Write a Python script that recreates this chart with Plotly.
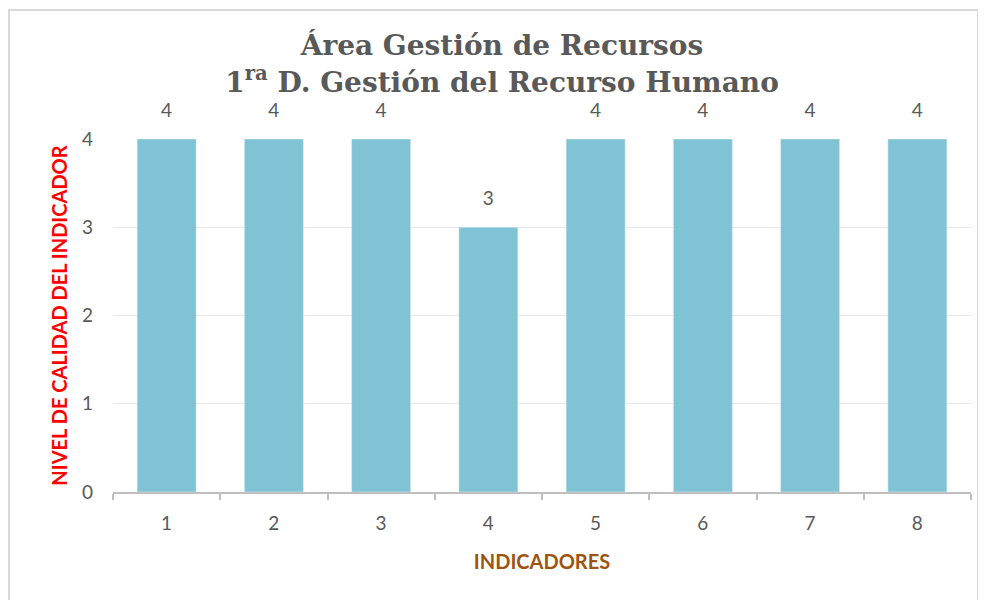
import plotly.graph_objects as go

indicadores = ['1', '2', '3', '4', '5', '6', '7', '8']
nivel = [4, 4, 4, 3, 4, 4, 4, 4]

gris = '#595959'

fig = go.Figure()
fig.add_trace(go.Bar(
    x=indicadores,
    y=nivel,
    marker=dict(color='#80C3D5'),
))

# etiquetas de datos encima de cada barra (marcador invisible para separar el texto)
fig.add_trace(go.Scatter(
    x=indicadores,
    y=nivel,
    mode='markers+text',
    text=[str(v) for v in nivel],
    textposition='top center',
    marker=dict(size=26, color='rgba(0,0,0,0)'),
    textfont=dict(family='Lato', size=19, color=gris),
    cliponaxis=False,
    hoverinfo='skip',
))

# la página tiene un margen de 8 px, así que la figura es un poco más chica
fig.update_layout(
    width=978, height=592,
    paper_bgcolor='white', plot_bgcolor='white',
    margin=dict(l=105, r=15, t=131, b=108),
    bargap=0.45,
    showlegend=False,
    title=dict(
        text='Área Gestión de Recursos<br>1<sup>ra</sup> D. Gestión del Recurso Humano',
        x=(502 - 8) / 978, xref='container', xanchor='center',
        y=0.92, yanchor='top',
        font=dict(family='DejaVu Serif', size=28, color=gris, weight='bold'),
    ),
    xaxis=dict(
        type='category',
        range=[-0.5, len(indicadores) - 0.5],
        showline=True, linecolor='#BFBFBF', linewidth=2,
        ticks='outside', ticklen=6, tickcolor='#BFBFBF', tickwidth=2,
        tickson='boundaries',
        tickfont=dict(family='Lato', size=19, color=gris),
        ticklabelstandoff=13,
        title=dict(text='<b>INDICADORES</b>', standoff=22,
                   font=dict(family='Lato', size=20, color='#9C5410')),
    ),
    yaxis=dict(
        range=[0, 4], dtick=1,
        showgrid=True, gridcolor='#E8E8E8', gridwidth=1,
        zeroline=False, showline=False,
        tickfont=dict(family='Lato', size=19, color=gris),
        ticklabelstandoff=19,
        title=dict(text='<b>NIVEL DE CALIDAD DEL INDICADOR</b>', standoff=8,
                   font=dict(family='Lato', size=20, color='#FF0000')),
    ),
    shapes=[dict(
        type='rect', xref='paper', yref='paper',
        x0=(1 - 105) / 858, x1=(970 - 105) / 858,
        y0=-(620 - 484) / 353, y1=(484 - 2) / 353,
        line=dict(color='#D9D9D9', width=2), fillcolor='rgba(0,0,0,0)',
        layer='below',
    )],
)

fig.write_html('out.html')
